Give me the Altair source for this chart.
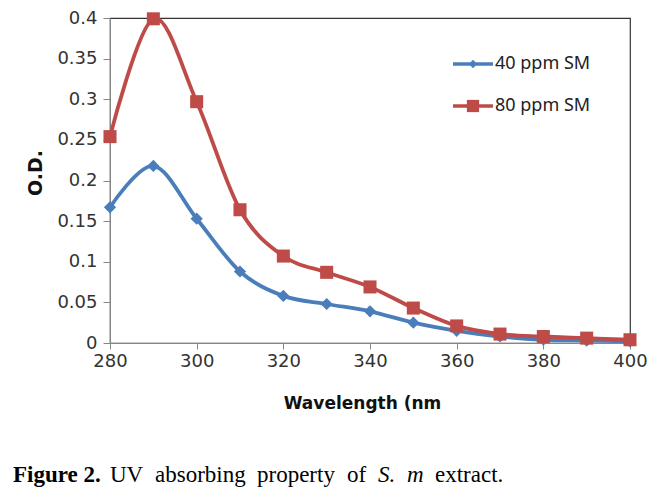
import altair as alt
import pandas as pd

# ---- data ----
wavelength = [280, 290, 300, 310, 320, 330, 340, 350, 360, 370, 380, 390, 400]
od_40 = [0.167, 0.218, 0.153, 0.088, 0.058, 0.048, 0.039, 0.025, 0.015, 0.008, 0.004, 0.003, 0.002]
od_80 = [0.254, 0.399, 0.297, 0.164, 0.107, 0.087, 0.069, 0.043, 0.021, 0.011, 0.008, 0.006, 0.004]
series = ["40 ppm SM", "80 ppm SM"]
colors = ["#4A7EBB", "#BE4B48"]
shapes = ["diamond", "square"]
y_ticks = [0, 0.05, 0.1, 0.15, 0.2, 0.25, 0.3, 0.35, 0.4]
x_ticks = [280, 300, 320, 340, 360, 380, 400]

rows = []
for s, vals in zip(series, [od_40, od_80]):
    for w, v in zip(wavelength, vals):
        rows.append({"wl": w, "od": v, "series": s})
df = pd.DataFrame(rows)

W, H = 520, 325
LABEL_FONT = "DejaVu Sans"

x = alt.X("wl:Q", scale=alt.Scale(domain=[280, 400], nice=False, zero=False),
          axis=alt.Axis(values=x_ticks, title="Wavelength (nm", grid=False,
                        labelFont=LABEL_FONT, labelFontSize=18, labelColor="#333333",
                        labelFlush=False, labelPadding=3,
                        tickSize=6, tickColor="#868686", domainColor="#868686",
                        titleFont="DejaVu Sans", titleFontWeight="bold", titleFontSize=17,
                        titleColor="#111111", titleX=252, titleY=65,
                        titleBaseline="alphabetic", titleAlign="center"))
y = alt.Y("od:Q", scale=alt.Scale(domain=[0, 0.4], nice=False),
          axis=alt.Axis(values=y_ticks, format=".2~f", title="O.D.", grid=False,
                        labelFont=LABEL_FONT, labelFontSize=18, labelColor="#333333",
                        labelFlush=False, labelPadding=6,
                        tickSize=7, tickColor="#868686", domainColor="#868686",
                        titleFont="DejaVu Sans", titleFontWeight="bold", titleFontSize=19,
                        titleColor="#111111", titleX=-75, titleY=154.5, titleAngle=-90,
                        titleBaseline="middle", titleAlign="center"))
color = alt.Color("series:N", scale=alt.Scale(domain=series, range=colors), legend=None)

lines = alt.Chart(df).mark_line(interpolate="cardinal", strokeWidth=3.8).encode(
    x=x, y=y, color=color)
points = alt.Chart(df).mark_point(filled=True, opacity=1).encode(
    x=x, y=y, color=color,
    shape=alt.Shape("series:N", scale=alt.Scale(domain=series, range=shapes), legend=None),
    size=alt.Size("series:N", scale=alt.Scale(domain=series, range=[150, 170]), legend=None))

# ---- manual legend ----
legend_layers = []
leg_y = [46, 88]
leg_sizes = [70, 150]
for s, c, shp, ly, sz in zip(series, colors, shapes, leg_y, leg_sizes):
    d = pd.DataFrame({"series": [s]})
    legend_layers.append(alt.Chart(d).mark_rule(color=c, strokeWidth=3.5).encode(
        x=alt.value(343), x2=alt.value(383), y=alt.value(ly)))
    legend_layers.append(alt.Chart(d).mark_point(filled=True, opacity=1, color=c, shape=shp, size=sz).encode(
        x=alt.value(363), y=alt.value(ly)))
    legend_layers.append(alt.Chart(d).mark_text(align="left", baseline="middle", font="Noto Sans",
                                                fontSize=18, color="#222222").encode(
        x=alt.value(385), y=alt.value(ly), text="series:N"))

# ---- caption ----
caption_parts = ["Figure 2.", "UV", "absorbing", "property", "of", "S.", "m", "extract."]
caption_x = [-97, 0, 45, 147, 237, 268, 297, 325]
caption_style = [("bold", "normal"), ("normal", "normal"), ("normal", "normal"),
                 ("normal", "normal"), ("normal", "normal"), ("normal", "italic"),
                 ("normal", "italic"), ("normal", "normal")]
caption_layers = []
for t, cx, (fw, fs) in zip(caption_parts, caption_x, caption_style):
    d = pd.DataFrame({"t": [t]})
    caption_layers.append(alt.Chart(d).mark_text(
        align="left", baseline="alphabetic", font="Liberation Serif", fontSize=23,
        fontWeight=fw, fontStyle=fs, color="#000000").encode(
        x=alt.value(cx), y=alt.value(464), text="t:N"))

chart = alt.layer(lines, points, *legend_layers, *caption_layers).properties(
    width=W, height=H,
    autosize=alt.AutoSizeParams(type="none"),
    padding={"left": 102, "top": 10, "right": 28, "bottom": 148},
).configure_view(stroke="#333333", strokeWidth=1.2)

chart.save("out.html", embed_options={"renderer": "svg", "actions": False})
